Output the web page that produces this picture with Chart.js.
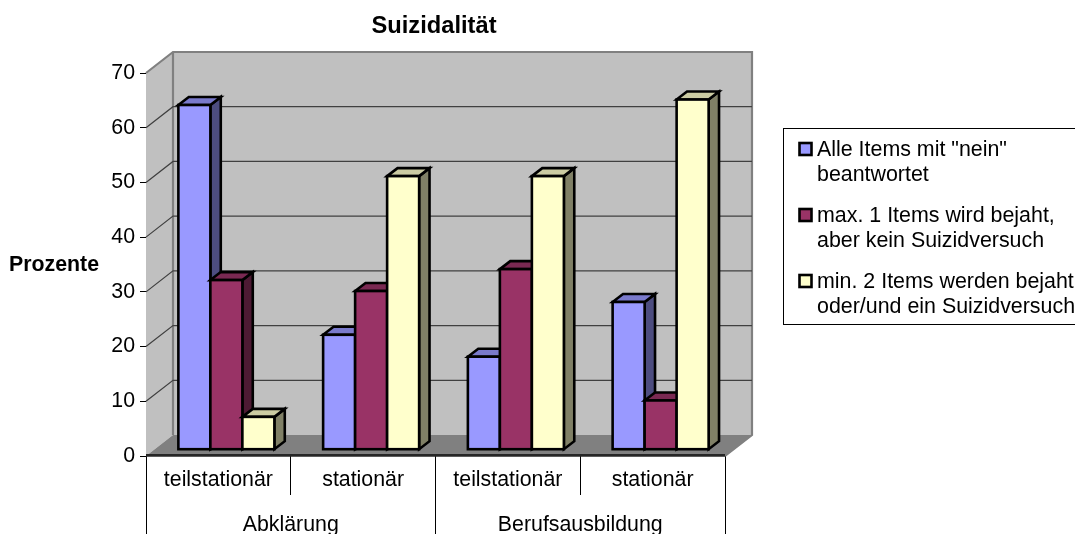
<!DOCTYPE html>
<html><head><meta charset="utf-8">
<style>html,body{margin:0;padding:0;background:#fff}canvas{display:block}</style>
<script src="https://cdn.jsdelivr.net/npm/chart.js@4"></script>
</head><body>
<div style="width:1075px;height:534px;position:relative;overflow:hidden"><canvas id="c" width="1075" height="534"></canvas></div>
<script>
const categories = ['teilstationär','stationär','teilstationär','stationär'];
const groups = ['Abklärung','Berufsausbildung'];
const seriesNames = [['Alle Items mit "nein"','beantwortet'],['max. 1 Items wird bejaht,','aber kein Suizidversuch'],['min. 2 Items werden bejaht','oder/und ein Suizidversuch']];
const alleNein = [63,21,17,27];
const maxEins = [31,29,33,9];
const minZwei = [6,50,50,64];
const yTicks = [0,10,20,30,40,50,60,70];
const colors = ['#9999FF','#993366','#FFFFCC'];
const sides = ['#4D4D80','#4D1A33','#808066'];
const tops = ['#7A7ACC','#7A2952','#CCCCA3'];
const FONT = '"Liberation Sans", Arial, sans-serif';
const WALL = {dx:27, dy:-21};
const BAR = {dx:8, dy:-6.3, depthX:10.4, depthY:-8};
const EDGE = 2.6;

const threeD = {
  id:'threeD',
  afterLayout(chart){
    chart.titleBlock.left -= 1.5; chart.titleBlock.right -= 1.5;
  },
  beforeDatasetsDraw(chart){
    const {ctx, chartArea:a, scales:{y}} = chart;
    const L=a.left,R=a.right,B=a.bottom,T=a.top,dx=WALL.dx,dy=WALL.dy;
    ctx.save();
    ctx.fillStyle='#C0C0C0';
    ctx.beginPath();ctx.moveTo(L,B);ctx.lineTo(L+dx,B+dy);ctx.lineTo(L+dx,T+dy);ctx.lineTo(L,T);ctx.closePath();ctx.fill();
    ctx.fillRect(L+dx,T+dy,R-L,B-T);
    ctx.fillStyle='#808080';
    ctx.beginPath();ctx.moveTo(L,B);ctx.lineTo(L+dx,B+dy);ctx.lineTo(R+dx,B+dy);ctx.lineTo(R,B);ctx.closePath();ctx.fill();
    ctx.strokeStyle='#808080';ctx.lineWidth=2.2;
    ctx.beginPath();ctx.moveTo(L,T);ctx.lineTo(L+dx,T+dy);ctx.lineTo(R+dx,T+dy);ctx.lineTo(R+dx,B+dy);ctx.lineTo(R,B);
    ctx.moveTo(L+dx,T+dy);ctx.lineTo(L+dx,B+dy);ctx.stroke();
    ctx.strokeStyle='#404040';ctx.lineWidth=1.2;
    yTicks.slice(1,-1).forEach(v=>{const p=y.getPixelForValue(v);
      ctx.beginPath();ctx.moveTo(L,p);ctx.lineTo(L+dx,p+dy);ctx.lineTo(R+dx,p+dy);ctx.stroke();});
    // series are painted left to right so that each bar hides the side of its left neighbour
    [0,1,2].forEach(i=>{
      const meta=chart.getDatasetMeta(i);
      ctx.lineWidth=EDGE;ctx.strokeStyle='#000';ctx.lineJoin='miter';
      meta.data.forEach(b=>{
        const l=b.x-b.width/2+BAR.dx,r=b.x+b.width/2+BAR.dx,t=b.y+BAR.dy,bt=b.base+BAR.dy,ddx=BAR.depthX,ddy=BAR.depthY;
        ctx.fillStyle=sides[i];
        ctx.beginPath();ctx.moveTo(r,t);ctx.lineTo(r+ddx,t+ddy);ctx.lineTo(r+ddx,bt+ddy);ctx.lineTo(r,bt);ctx.closePath();ctx.fill();ctx.stroke();
        ctx.fillStyle=tops[i];
        ctx.beginPath();ctx.moveTo(l,t);ctx.lineTo(l+ddx,t+ddy);ctx.lineTo(r+ddx,t+ddy);ctx.lineTo(r,t);ctx.closePath();ctx.fill();ctx.stroke();
      });
      ctx.save();ctx.translate(BAR.dx,BAR.dy);
      meta.controller.draw();
      ctx.restore();
      meta.data.forEach(b=>{
        ctx.strokeRect(b.x-b.width/2+BAR.dx,b.y+BAR.dy,b.width,b.base-b.y);
      });
    });
    ctx.restore();
    return false;
  },
  afterDraw(chart){
    const {ctx,chartArea:a}=chart;
    ctx.save();
    ctx.strokeStyle='#262626';ctx.lineWidth=2.6;
    ctx.beginPath();ctx.moveTo(a.left,455.4);ctx.lineTo(a.right,455.4);ctx.stroke();
    ctx.fillStyle='#000';ctx.font='bold 21.33px '+FONT;ctx.textBaseline='alphabetic';ctx.textAlign='left';
    ctx.fillText('Prozente',9,271);
    // legend
    ctx.strokeStyle='#000';ctx.lineWidth=1;
    ctx.strokeRect(783.5,128.5,300,196);
    ctx.font='21.4px '+FONT;
    const ys=[155.5,221.5,287.5];
    seriesNames.forEach((lines,i)=>{
      ctx.fillStyle=colors[i];ctx.lineWidth=2.6;
      ctx.fillRect(799.5,ys[i]-12.5,12,12);ctx.strokeRect(799.5,ys[i]-12.5,12,12);
      ctx.fillStyle='#000';
      lines.forEach((s,j)=>ctx.fillText(s,817,ys[i]+j*25.5));
    });
    ctx.restore();
  }
};

new Chart(document.getElementById('c'),{
  type:'bar',
  plugins:[threeD],
  data:{labels:categories,datasets:[
    {label:seriesNames[0].join(' '),data:alleNein,backgroundColor:colors[0],borderWidth:0},
    {label:seriesNames[1].join(' '),data:maxEins,backgroundColor:colors[1],borderWidth:0},
    {label:seriesNames[2].join(' '),data:minZwei,backgroundColor:colors[2],borderWidth:0}
  ]},
  options:{
    responsive:false,animation:false,
    layout:{padding:{left:0,right:350,top:0,bottom:0}},
    categoryPercentage:96/144.75,barPercentage:1,
    plugins:{
      legend:{display:false},
      tooltip:{enabled:false},
      title:{display:true,fullSize:false,text:'Suizidalität',color:'#000',font:{family:FONT,size:23.7,weight:'bold'},padding:{top:12,bottom:32.56},align:'center'}
    },
    scales:{
      x:{position:'bottom',offset:true,z:1,
        grid:{offset:true,drawOnChartArea:false,tickLength:39,color:'#000',lineWidth:1},
        border:{display:false},
        ticks:{color:'#000',font:{family:FONT,size:21.33},padding:-28,maxRotation:0,autoSkip:false},
        afterFit(s){s.height=39;}
      },
      x2:{position:'bottom',type:'category',labels:groups,offset:true,z:1,
        grid:{offset:true,drawOnChartArea:false,tickLength:39,color:'#000',lineWidth:1},
        border:{display:false},
        ticks:{color:'#000',font:{family:FONT,size:21.33},padding:-22,maxRotation:0},
        afterFit(s){s.height=39;}
      },
      y:{min:0,max:70,z:1,
        grid:{drawOnChartArea:false,tickLength:6,color:'#000',lineWidth:1},
        border:{display:true,color:'#000',width:1},
        ticks:{stepSize:10,color:'#000',font:{family:FONT,size:21.33},padding:5},
        afterFit(s){s.width=146;}
      }
    }
  }
});
</script></body></html>
